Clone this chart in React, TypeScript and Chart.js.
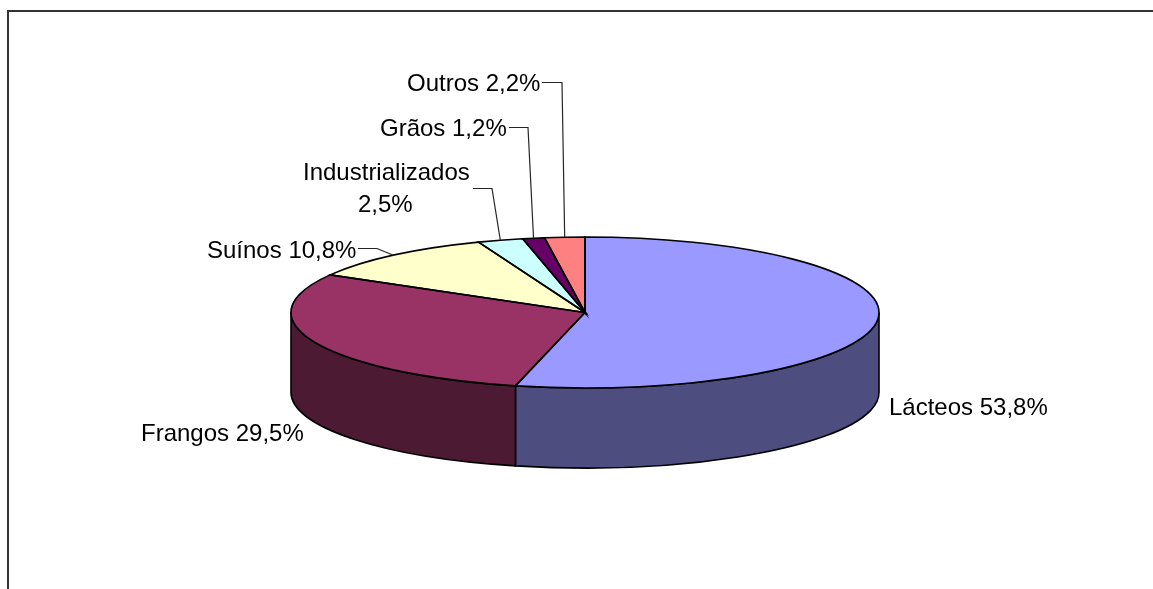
import React, { useEffect, useRef } from "react";
import { Chart, registerables } from "chart.js";

Chart.register(...registerables);

const categories = ["Lácteos", "Frangos", "Suínos", "Industrializados", "Grãos", "Outros"];
const shares = [53.8, 29.5, 10.8, 2.5, 1.2, 2.2];
const topColors = ["#9999FF", "#993366", "#FFFFCC", "#CCFFFF", "#660066", "#FF8080"];
const wallColors = ["#4D4D80", "#4D1A33", "#808066", "#668080", "#330033", "#804040"];

const W = 1153;
const H = 589;
const CX = 585;
const CY = 312.5;
const RX = 294;
const RY = 75.5;
const DEPTH = 80;
const FONT = '24px "Liberation Sans", Arial, sans-serif';

// label placement per category: text rows (left x, baseline y), optional elbow leader
const labelLayout = [
  { rows: [[889, 415]], leader: null },
  { rows: [[141, 441]], leader: null },
  { rows: [[207, 258]], leader: [[358, 248], [377, 248]] },
  { rows: [[303, 180], [358, 212]], leader: [[473, 188], [492, 188]] },
  { rows: [[380, 136]], leader: [[509, 127], [528, 127]] },
  { rows: [[407, 91]], leader: [[542, 82], [562, 82]] },
];

const fmt = (v: number) => v.toFixed(1).replace(".", ",") + "%";

const piePlugin = {
  id: "pie3d",
  beforeDraw(chart: any) {
    const { ctx } = chart;
    ctx.save();
    ctx.fillStyle = "#FFFFFF";
    ctx.fillRect(0, 0, W, H);
    ctx.strokeStyle = "#333333";
    ctx.lineWidth = 2;
    ctx.beginPath();
    ctx.moveTo(8, H);
    ctx.lineTo(8, 11);
    ctx.lineTo(W, 11);
    ctx.stroke();
    ctx.restore();
  },
  beforeDatasetsDraw(chart: any) {
    const { ctx } = chart;
    const arcs = chart.getDatasetMeta(0).data;
    ctx.save();
    ctx.strokeStyle = "#000000";
    ctx.lineWidth = 1.6;
    arcs.forEach((arc: any, i: number) => {
      const a0 = Math.max(arc.startAngle, 0);
      const a1 = Math.min(arc.endAngle, Math.PI);
      if (a1 <= a0) return;
      ctx.beginPath();
      ctx.ellipse(CX, CY, RX, RY, 0, a0, a1);
      ctx.ellipse(CX, CY + DEPTH, RX, RY, 0, a1, a0, true);
      ctx.closePath();
      ctx.fillStyle = wallColors[i];
      ctx.fill();
      ctx.stroke();
    });
    ctx.restore();
    const first = arcs[0];
    ctx.save();
    ctx.translate(CX, CY);
    ctx.scale(RX / first.outerRadius, RY / first.outerRadius);
    ctx.translate(-first.x, -first.y);
  },
  afterDatasetsDraw(chart: any) {
    const { ctx } = chart;
    ctx.restore();
    const arcs = chart.getDatasetMeta(0).data;
    ctx.save();
    ctx.strokeStyle = "#000000";
    ctx.lineWidth = 1.6;
    arcs.forEach((arc: any) => {
      ctx.beginPath();
      ctx.moveTo(CX, CY);
      ctx.ellipse(CX, CY, RX, RY, 0, arc.startAngle, arc.endAngle);
      ctx.closePath();
      ctx.stroke();
    });
    ctx.font = FONT;
    ctx.fillStyle = "#000000";
    ctx.textBaseline = "alphabetic";
    ctx.textAlign = "left";
    categories.forEach((name, i) => {
      const { rows, leader } = labelLayout[i];
      const pct = fmt(shares[i]);
      const texts = rows.length > 1 ? [name, pct] : [`${name} ${pct}`];
      rows.forEach((r, j) => ctx.fillText(texts[j], r[0], r[1]));
      if (leader) {
        const mid = (arcs[i].startAngle + arcs[i].endAngle) / 2;
        ctx.beginPath();
        ctx.strokeStyle = "#262626";
        ctx.lineWidth = 1.2;
        ctx.moveTo(leader[0][0], leader[0][1] + 0.5);
        ctx.lineTo(leader[1][0], leader[1][1] + 0.5);
        ctx.lineTo(CX + RX * Math.cos(mid), CY + RY * Math.sin(mid));
        ctx.stroke();
      }
    });
    ctx.restore();
  },
};

export default function App() {
  const ref = useRef<HTMLCanvasElement>(null);
  useEffect(() => {
    const chart = new Chart(ref.current as HTMLCanvasElement, {
      type: "pie",
      data: {
        labels: categories,
        datasets: [
          {
            data: shares,
            backgroundColor: topColors,
            borderWidth: 0,
            clip: false,
          } as any,
        ],
      },
      options: {
        responsive: false,
        animation: false,
        devicePixelRatio: 1,
        events: [],
        layout: { padding: 0 },
        plugins: { legend: { display: false }, tooltip: { enabled: false }, title: { display: false } },
      },
      plugins: [piePlugin],
    });
    return () => chart.destroy();
  }, []);
  return (
    <canvas
      ref={ref}
      width={W}
      height={H}
      style={{ position: "fixed", left: 0, top: 0, width: W, height: H, display: "block" }}
    />
  );
}
